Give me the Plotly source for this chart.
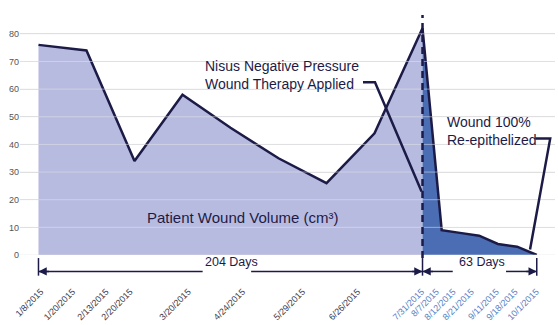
import plotly.graph_objects as go

# ---- data ----
dates = ["1/8/2015", "1/20/2015", "2/13/2015", "2/20/2015", "3/20/2015",
         "4/24/2015", "5/29/2015", "6/26/2015", "7/31/2015", "8/7/2015",
         "8/12/2015", "8/21/2015", "9/11/2015", "9/18/2015", "10/1/2015"]
volume = [76, 74, 34, 58, 46, 35, 26, 44, 82, 9, 8, 7, 4, 3, 0]
point_pos = [0, 1, 2, 3, 4, 5, 6, 7, 8, 8.4, 8.78, 9.18, 9.57, 9.97, 10.38]
label_pos = [0.05, 0.71, 1.41, 1.91, 3.12, 4.25, 5.5, 6.65, 7.98,
             8.29, 8.64, 9.02, 9.54, 9.93, 10.37]
therapy_idx = 8
y_ticks = [0, 10, 20, 30, 40, 50, 60, 70, 80]

NAVY = "#1c1b47"
LAV = "#b8bbe0"
BLUE = "#4a6db4"
DARK_LBL = "#3b3b4f"
BLUE_LBL = "#5b80c2"
FONT = "Liberation Sans, Arial, Helvetica, sans-serif"

fig = go.Figure()
fig.add_trace(go.Scatter(x=point_pos[:therapy_idx + 1], y=volume[:therapy_idx + 1],
                         mode="lines", line=dict(width=0), fill="tozeroy",
                         fillcolor=LAV, hoverinfo="skip"))
fig.add_trace(go.Scatter(x=point_pos[therapy_idx:], y=volume[therapy_idx:],
                         mode="lines", line=dict(width=0), fill="tozeroy",
                         fillcolor=BLUE, hoverinfo="skip"))
fig.add_trace(go.Scatter(x=point_pos, y=volume, mode="lines",
                         line=dict(color=NAVY, width=2.5)))

ticktext = []
for i, d in enumerate(dates):
    c = DARK_LBL if i < therapy_idx else BLUE_LBL
    ticktext.append(f"<span style='color:{c}'>{d}</span>")

shapes = []
# gridlines drawn over the areas
for v in y_ticks:
    shapes.append(dict(type="line", xref="paper", yref="y", x0=0, x1=1, y0=v, y1=v,
                       line=dict(color="rgba(228,228,232,0.55)", width=1), layer="above"))
# dashed therapy line
tx = point_pos[therapy_idx]
shapes.append(dict(type="line", xref="x", yref="paper", x0=tx, x1=tx, y0=-0.013, y1=1.021,
                   line=dict(color=NAVY, width=2.5, dash="7px,5px")))
# bracket ticks
for xv in [point_pos[0], tx, point_pos[-1]]:
    shapes.append(dict(type="line", xref="x", yref="paper", x0=xv, x1=xv, y0=-0.013, y1=-0.088,
                       line=dict(color=NAVY, width=1.5)))
# bracket arrow lines
arrow_y = -0.07
for a, b in [(point_pos[0], 3.42), (4.43, tx), (tx, 8.63), (9.74, point_pos[-1])]:
    shapes.append(dict(type="line", xref="x", yref="paper", x0=a, x1=b, y0=arrow_y, y1=arrow_y,
                       line=dict(color=NAVY, width=1.5)))
# leader lines
shapes.append(dict(type="path", xref="x", yref="y",
                   path="M 6.76 62.5 L 7.01 62.5 L 7.98 23",
                   line=dict(color=NAVY, width=2.5)))
shapes.append(dict(type="path", xref="x", yref="y",
                   path="M 10.35 42.1 L 10.66 42.1 L 10.24 2",
                   line=dict(color=NAVY, width=2.5)))

ann = []
for tip, off in [(point_pos[0], 12), (tx, -12), (tx, 12), (point_pos[-1], -12)]:
    ann.append(dict(x=tip, y=arrow_y, xref="x", yref="paper", ax=off, ay=0,
                    text="", showarrow=True, arrowhead=2, arrowsize=1.1,
                    arrowwidth=1.5, arrowcolor=NAVY, standoff=0))
ann.append(dict(x=(point_pos[0] + tx) / 2 + 0.03, y=arrow_y, xref="x", yref="paper",
                text="204 Days", showarrow=False,
                font=dict(family=FONT, size=12.5, color=NAVY)))
ann.append(dict(x=(tx + point_pos[-1]) / 2 + 0.04, y=arrow_y, xref="x", yref="paper",
                text="63 Days", showarrow=False,
                font=dict(family=FONT, size=12.5, color=NAVY)))
ann.append(dict(x=3.42, y=65.2, xref="x", yref="y", xanchor="left", yanchor="middle",
                align="left", text="Nisus Negative Pressure<br>Wound Therapy Applied",
                showarrow=False, font=dict(family=FONT, size=14, color=NAVY)))
ann.append(dict(x=8.47, y=45, xref="x", yref="y", xanchor="left", yanchor="middle",
                align="left", text="Wound 100%<br>Re-epithelized",
                showarrow=False, font=dict(family=FONT, size=14, color=NAVY)))
ann.append(dict(x=4.26, y=13.6, xref="x", yref="y", xanchor="center", yanchor="middle",
                text="Patient Wound Volume (cm³)", showarrow=False,
                font=dict(family=FONT, size=15, color=NAVY)))

fig.update_layout(
    width=558, height=325,
    margin=dict(l=20, r=3, t=20, b=66),
    paper_bgcolor="white", plot_bgcolor="white",
    showlegend=False,
    font=dict(family=FONT),
    shapes=shapes, annotations=ann,
    xaxis=dict(range=[-0.385, 10.76], showgrid=False, zeroline=False, showline=False,
               tickmode="array", tickvals=label_pos, ticktext=ticktext, tickangle=-45,
               ticks="outside", ticklen=27, tickcolor="rgba(0,0,0,0)",
               tickfont=dict(family=FONT, size=9)),
    yaxis=dict(range=[0, 85], tickmode="array", tickvals=y_ticks, showgrid=True,
               gridcolor="#dedede", zeroline=False, showline=False,
               tickfont=dict(family=FONT, size=9, color="#555555")),
)

fig.write_html("out.html")
